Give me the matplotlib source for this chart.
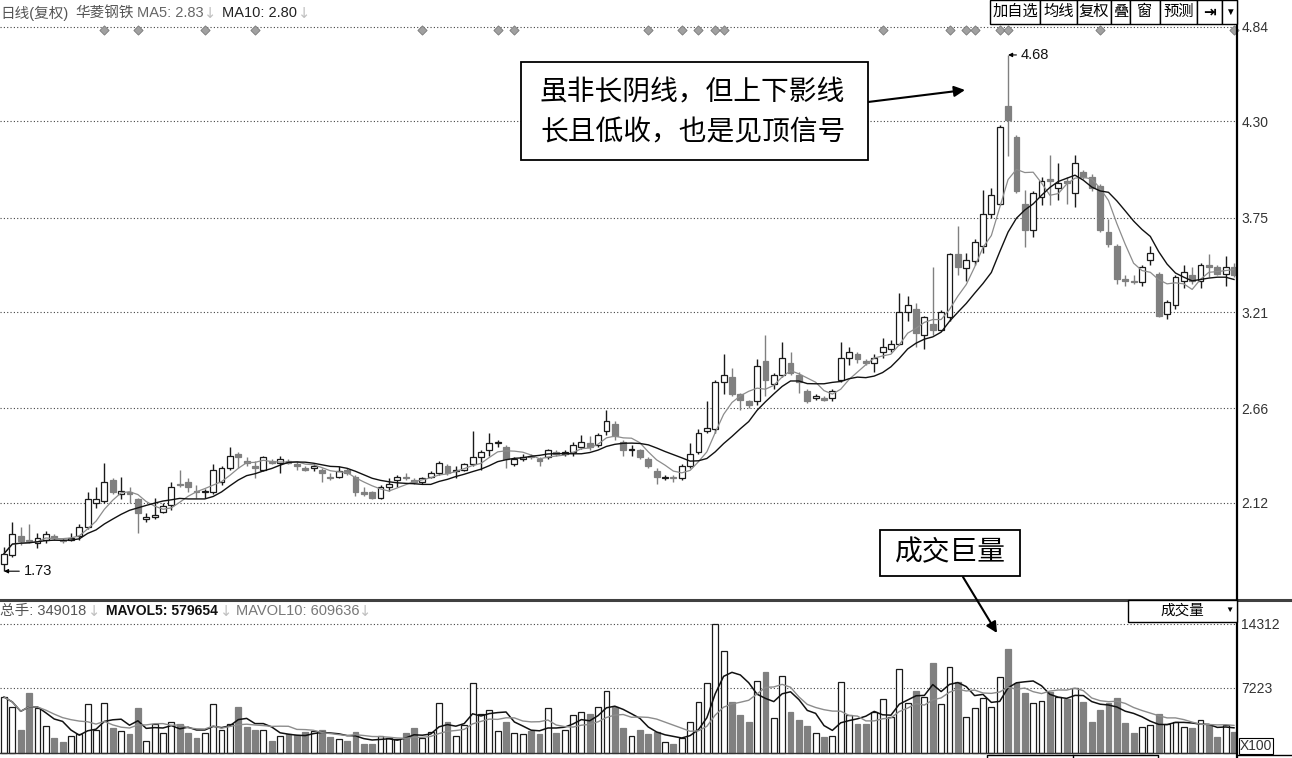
import numpy as np
import pandas as pd
import matplotlib
matplotlib.use('Agg')
import matplotlib.pyplot as plt
from matplotlib.patches import Rectangle

plt.rcParams['font.family'] = ['Liberation Sans', 'Noto Sans CJK SC', 'DejaVu Sans']

# daily OHLC (148 sessions)
opens = [1.77, 1.82, 1.93, 1.91, 1.89, 1.91, 1.93, 1.91, 1.91, 1.93,
         1.98, 2.12, 2.13, 2.25, 2.17, 2.18, 2.14, 2.03, 2.04, 2.07,
         2.11, 2.23, 2.24, 2.19, 2.18, 2.18, 2.24, 2.32, 2.40, 2.36,
         2.33, 2.31, 2.36, 2.35, 2.36, 2.34, 2.32, 2.32, 2.31, 2.27,
         2.27, 2.31, 2.27, 2.18, 2.18, 2.15, 2.21, 2.25, 2.27, 2.25,
         2.24, 2.27, 2.29, 2.33, 2.30, 2.31, 2.34, 2.38, 2.42, 2.46,
         2.44, 2.34, 2.37, 2.39, 2.37, 2.38, 2.41, 2.40, 2.41, 2.44,
         2.46, 2.45, 2.53, 2.57, 2.47, 2.42, 2.42, 2.37, 2.30, 2.26,
         2.27, 2.26, 2.33, 2.41, 2.53, 2.54, 2.81, 2.84, 2.74, 2.70,
         2.70, 2.93, 2.80, 2.85, 2.92, 2.85, 2.76, 2.72, 2.72, 2.72,
         2.82, 2.95, 2.97, 2.93, 2.92, 2.98, 3.00, 3.03, 3.21, 3.23,
         3.08, 3.14, 3.11, 3.18, 3.54, 3.46, 3.50, 3.59, 3.77, 3.83,
         4.39, 4.21, 3.83, 3.68, 3.87, 3.97, 3.92, 3.96, 3.89, 4.01,
         3.98, 3.93, 3.67, 3.59, 3.40, 3.39, 3.38, 3.51, 3.43, 3.20,
         3.25, 3.39, 3.42, 3.39, 3.48, 3.47, 3.43, 3.47]
highs = [1.87, 2.01, 1.98, 2.00, 1.95, 1.96, 1.94, 1.92, 1.95, 2.00,
         2.18, 2.21, 2.35, 2.26, 2.27, 2.21, 2.15, 2.06, 2.15, 2.12,
         2.24, 2.31, 2.26, 2.22, 2.20, 2.34, 2.33, 2.44, 2.41, 2.38,
         2.36, 2.39, 2.37, 2.39, 2.37, 2.36, 2.33, 2.34, 2.32, 2.29,
         2.33, 2.32, 2.28, 2.21, 2.19, 2.22, 2.26, 2.28, 2.29, 2.26,
         2.27, 2.30, 2.36, 2.34, 2.33, 2.35, 2.53, 2.42, 2.52, 2.48,
         2.45, 2.38, 2.40, 2.40, 2.38, 2.43, 2.42, 2.42, 2.47, 2.51,
         2.50, 2.52, 2.65, 2.59, 2.48, 2.45, 2.43, 2.38, 2.32, 2.28,
         2.28, 2.34, 2.46, 2.54, 2.70, 2.82, 2.97, 2.89, 2.75, 2.71,
         2.94, 3.08, 2.86, 3.04, 2.98, 2.87, 2.77, 2.74, 2.73, 2.77,
         3.04, 3.01, 2.98, 2.94, 2.97, 3.06, 3.05, 3.32, 3.30, 3.26,
         3.19, 3.47, 3.22, 3.55, 3.70, 3.55, 3.63, 3.91, 3.92, 4.28,
         4.68, 4.22, 3.91, 3.90, 3.98, 4.11, 4.06, 3.98, 4.11, 4.02,
         4.00, 3.94, 3.74, 3.60, 3.42, 3.42, 3.48, 3.59, 3.44, 3.28,
         3.42, 3.48, 3.47, 3.49, 3.54, 3.48, 3.53, 3.49]
lows = [1.73, 1.81, 1.88, 1.89, 1.86, 1.89, 1.91, 1.89, 1.90, 1.91,
        1.97, 2.09, 2.12, 2.17, 2.14, 2.12, 1.95, 2.01, 2.03, 2.06,
        2.08, 2.21, 2.18, 2.15, 2.15, 2.17, 2.22, 2.31, 2.32, 2.33,
        2.26, 2.30, 2.34, 2.29, 2.34, 2.31, 2.30, 2.30, 2.24, 2.25,
        2.26, 2.28, 2.16, 2.16, 2.14, 2.14, 2.19, 2.21, 2.25, 2.23,
        2.23, 2.26, 2.28, 2.28, 2.26, 2.30, 2.33, 2.31, 2.39, 2.44,
        2.32, 2.33, 2.36, 2.37, 2.33, 2.37, 2.39, 2.39, 2.39, 2.43,
        2.42, 2.44, 2.51, 2.48, 2.39, 2.39, 2.37, 2.32, 2.23, 2.25,
        2.24, 2.25, 2.32, 2.40, 2.52, 2.52, 2.74, 2.73, 2.65, 2.66,
        2.68, 2.73, 2.77, 2.84, 2.85, 2.75, 2.69, 2.71, 2.70, 2.70,
        2.81, 2.91, 2.92, 2.91, 2.87, 2.95, 2.98, 3.02, 3.16, 3.01,
        3.00, 3.08, 3.10, 3.16, 3.42, 3.39, 3.48, 3.55, 3.75, 3.82,
        4.10, 3.89, 3.58, 3.64, 3.82, 3.82, 3.85, 3.83, 3.81, 3.97,
        3.90, 3.67, 3.58, 3.37, 3.36, 3.37, 3.36, 3.48, 3.18, 3.17,
        3.23, 3.35, 3.37, 3.35, 3.41, 3.42, 3.36, 3.41]
closes = [1.83, 1.94, 1.90, 1.90, 1.92, 1.94, 1.92, 1.90, 1.92, 1.98,
          2.14, 2.14, 2.24, 2.18, 2.19, 2.17, 2.06, 2.04, 2.05, 2.10,
          2.21, 2.22, 2.21, 2.18, 2.19, 2.31, 2.32, 2.39, 2.38, 2.35,
          2.32, 2.38, 2.35, 2.37, 2.35, 2.33, 2.31, 2.33, 2.29, 2.26,
          2.30, 2.29, 2.18, 2.17, 2.15, 2.21, 2.23, 2.27, 2.26, 2.24,
          2.26, 2.29, 2.35, 2.29, 2.31, 2.34, 2.38, 2.41, 2.46, 2.47,
          2.37, 2.37, 2.38, 2.38, 2.36, 2.42, 2.40, 2.41, 2.45, 2.47,
          2.44, 2.51, 2.59, 2.50, 2.42, 2.43, 2.38, 2.33, 2.27, 2.27,
          2.26, 2.33, 2.40, 2.52, 2.55, 2.81, 2.85, 2.74, 2.71, 2.68,
          2.90, 2.82, 2.85, 2.95, 2.86, 2.81, 2.70, 2.73, 2.71, 2.76,
          2.95, 2.98, 2.94, 2.92, 2.95, 3.01, 3.03, 3.21, 3.25, 3.09,
          3.18, 3.11, 3.21, 3.54, 3.47, 3.51, 3.61, 3.77, 3.88, 4.27,
          4.31, 3.90, 3.68, 3.89, 3.96, 3.96, 3.95, 3.95, 4.06, 3.98,
          3.92, 3.68, 3.60, 3.40, 3.39, 3.38, 3.47, 3.55, 3.19, 3.27,
          3.41, 3.44, 3.39, 3.48, 3.47, 3.43, 3.47, 3.42]
# volume in lots of 100
volumes = [6205, 5097, 2548, 6648, 4986, 2992, 1662, 1219, 1884, 2105,
           5429, 2548, 5540, 2770, 2438, 2105, 4986, 1330, 3213, 2216,
           3435, 3213, 2216, 1662, 2216, 5429, 2548, 3213, 5097, 2881,
           2548, 2548, 1330, 1884, 2105, 1994, 2327, 2438, 2548, 1773,
           1551, 1330, 2327, 997, 997, 1884, 1662, 1551, 2216, 2770,
           1662, 2327, 5540, 3435, 1884, 3102, 7756, 4321, 4764, 2438,
           3435, 2216, 2105, 2438, 2105, 4986, 2216, 2548, 4210, 4543,
           4321, 5097, 6870, 5097, 2770, 1884, 2548, 2105, 2327, 1219,
           997, 1662, 3435, 5651, 7756, 14312, 11302, 5651, 4210, 3435,
           7978, 8975, 3878, 8532, 4543, 3656, 2992, 2216, 1773, 1884,
           7867, 4210, 3213, 3213, 4543, 5983, 3989, 9307, 5540, 6870,
           6205, 9972, 5429, 9529, 7867, 3989, 4986, 6094, 5097, 8421,
           11523, 7756, 6648, 5540, 5762, 6759, 6205, 5983, 7202, 5651,
           3435, 4764, 5540, 6094, 3324, 2216, 2881, 3102, 4321, 3213,
           3435, 2881, 2770, 3656, 3102, 1773, 3102, 2327]
marker_days = [12, 16, 24, 30, 50, 59, 61, 77, 81, 83, 85, 86,
               105, 113, 115, 116, 119, 120, 131, 147]
price_ticks = [4.84, 4.30, 3.75, 3.21, 2.66, 2.12]
vol_ticks = [14312, 7223]
buttons = ['加自选', '均线', '复权', '叠', '窗', '预测', '⇥', '▼']

W, H = 1292, 758
UP, DOWN = '#1a1a1a', '#808080'


def rect(x0, y0, x1, y1):
    # pixel box (top-left origin) -> figure fraction
    return [x0 / W, 1 - y1 / H, (x1 - x0) / W, (y1 - y0) / H]


def style_axis(ax, ticks, labels):
    for s in ax.spines.values():
        s.set_visible(False)
    ax.set_xticks([])
    ax.yaxis.tick_right()
    ax.set_yticks(ticks)
    ax.set_yticklabels(labels)
    ax.tick_params(axis='y', length=0, pad=3, labelsize=10, labelcolor='#333333')
    for t in ticks:
        ax.axhline(t, color='#444444', lw=0.8, ls=(0, (1, 2)), zorder=1)


o = np.array(opens)
h = np.array(highs)
l = np.array(lows)
c = np.array(closes)
v = np.array(volumes)
n = len(c)
x = np.arange(n)
up = c >= o
step = (1234 - 4) / (n - 1)
xlim = (-4 / step, -4 / step + 1237 / step)

fig = plt.figure(figsize=(W / 100, H / 100), dpi=100)
ax_p = fig.add_axes(rect(0, 0, 1237, 600))
ax_v = fig.add_axes(rect(0, 600, 1237, 755))
ov = fig.add_axes([0, 0, 1, 1])
ov.set_xlim(0, W)
ov.set_ylim(H, 0)
ov.axis('off')
ov.patch.set_alpha(0)

# price panel
ax_p.set_xlim(*xlim)
ax_p.set_ylim(4.994 - 600 / 175, 4.994)
style_axis(ax_p, price_ticks, [f'{t:.2f}' for t in price_ticks])
edge = np.where(up, UP, DOWN)
face = np.where(up, 'white', DOWN)
ax_p.vlines(x, l, h, colors=edge, lw=1, zorder=2)
ax_p.bar(x, np.maximum(np.abs(c - o), 0.004), bottom=np.minimum(o, c), width=0.7,
         color=face, edgecolor=edge, linewidth=0.9, zorder=3)
ma5 = pd.Series(c).rolling(5, min_periods=1).mean()
ma10 = pd.Series(c).rolling(10, min_periods=1).mean()
ax_p.plot(x, ma5, color='#8c8c8c', lw=0.9, zorder=4)
ax_p.plot(x, ma10, color='#111111', lw=1.0, zorder=4)
ax_p.scatter(marker_days, [4.82] * len(marker_days), marker='D', s=22,
             color='#a0a0a0', edgecolor='#7a7a7a', linewidth=0.6, zorder=5, clip_on=False)

i_hi, i_lo = int(np.argmax(h)), int(np.argmin(l))
for i, val, dx in [(i_hi, h[i_hi], 9), (i_lo, l[i_lo], 14)]:
    ax_p.annotate(f'{val:.2f}', xy=(i, val), xytext=(dx, 0), textcoords='offset points',
                  ha='left', va='center', fontsize=10.5, color='#111111',
                  arrowprops=dict(arrowstyle='-|>', color='black', lw=0.8,
                                  mutation_scale=6, shrinkA=1, shrinkB=0, relpos=(0, 0.5)))

# volume panel
ax_v.set_xlim(*xlim)
ax_v.set_ylim((753 - 755) * 110.77, (753 - 600) * 110.77)
style_axis(ax_v, vol_ticks, [str(t) for t in vol_ticks])
ax_v.bar(x, v, width=0.7, color=face, edgecolor=edge, linewidth=0.9, zorder=3)
ax_v.plot(x, pd.Series(v).rolling(5, min_periods=1).mean(), color='#111111', lw=1.1, zorder=4)
ax_v.plot(x, pd.Series(v).rolling(10, min_periods=1).mean(), color='#8c8c8c', lw=1.0, zorder=4)
ax_v.axhline(0, color='#333333', lw=1, zorder=4)

# frame lines
ov.plot([0, W], [600, 600], color='#404040', lw=2.2)
ov.plot([1237, 1237], [0, H], color='black', lw=1.6)
ov.plot([1237, W], [755, 755], color='black', lw=1)
ov.plot([987, 987, 1158, 1158], [758, 755, 755, 758], color='black', lw=1)
ov.plot([1073, 1073], [755, 758], color='black', lw=1)

# headers
ARROW = ['DejaVu Sans']
for px, txt, col in [(0, '日线(复权)', '#555555'), (75, '华菱钢铁', '#555555'),
                     (137, 'MA5: 2.83', '#666666'), (204, '↓', '#c0c0c0'),
                     (222, 'MA10: 2.80', '#222222'), (298, '↓', '#c0c0c0')]:
    ov.text(px, 13, txt, color=col, fontsize=10.5, va='center', ha='left',
            family=ARROW if txt == '↓' else None)
for px, txt, col, fw, fs in [(0, '总手: 349018', '#555555', 'normal', 10.5),
                             (88, '↓', '#c0c0c0', 'normal', 10.5),
                             (106, 'MAVOL5: 579654', '#111111', 'bold', 10),
                             (220, '↓', '#c0c0c0', 'normal', 10.5),
                             (236, 'MAVOL10: 609636', '#777777', 'normal', 10.5),
                             (359, '↓', '#c0c0c0', 'normal', 10.5)]:
    ov.text(px, 611, txt, color=col, fontsize=fs, va='center', ha='left', fontweight=fw,
            family=ARROW if txt == '↓' else None)

# toolbar buttons
edges = [990, 1040, 1077, 1111, 1130, 1160, 1197, 1222, 1237]
for k, lab in enumerate(buttons):
    ov.add_patch(Rectangle((edges[k], 0), edges[k + 1] - edges[k], 24,
                           facecolor='white', edgecolor='black', lw=1, zorder=6))
    fs = 7 if lab == '▼' else 11
    fam = ['DejaVu Sans'] if lab == '⇥' else None
    ov.text((edges[k] + edges[k + 1]) / 2, 12, lab, ha='center', va='center', fontsize=fs,
            fontweight='bold' if lab == '⇥' else 'normal', family=fam, zorder=7)

ov.add_patch(Rectangle((1128, 600), 109, 22, facecolor='white', edgecolor='black', lw=1, zorder=6))
ov.text(1182, 611, '成交量', ha='center', va='center', fontsize=10.5, zorder=7)
ov.text(1229, 610, '▼', ha='center', va='center', fontsize=6, zorder=7)
ov.add_patch(Rectangle((1239, 738), 34, 16, facecolor='white', edgecolor='black', lw=0.8, zorder=6))
ov.text(1256, 746, 'X100', ha='center', va='center', fontsize=10, color='#333333', zorder=7)

# callouts
ov.add_patch(Rectangle((521, 62), 347, 98, facecolor='white', edgecolor='black', lw=1.3, zorder=6))
ov.text(540, 93, '虽非长阴线，但上下影线', fontsize=20, va='center', ha='left', zorder=7)
ov.text(540, 133, '长且低收，也是见顶信号', fontsize=20, va='center', ha='left', zorder=7)
ov.annotate('', xy=(965, 90), xytext=(868, 102),
            arrowprops=dict(arrowstyle='-|>', lw=1.5, color='black', mutation_scale=16,
                            shrinkA=0, shrinkB=0))
ov.add_patch(Rectangle((880, 530), 140, 46, facecolor='white', edgecolor='black', lw=1.3, zorder=6))
ov.text(950, 553, '成交巨量', fontsize=20, va='center', ha='center', zorder=7)
ov.annotate('', xy=(997, 633), xytext=(963, 577),
            arrowprops=dict(arrowstyle='-|>', lw=1.5, color='black', mutation_scale=16,
                            shrinkA=0, shrinkB=0))

fig.savefig('out.png', dpi=100)
